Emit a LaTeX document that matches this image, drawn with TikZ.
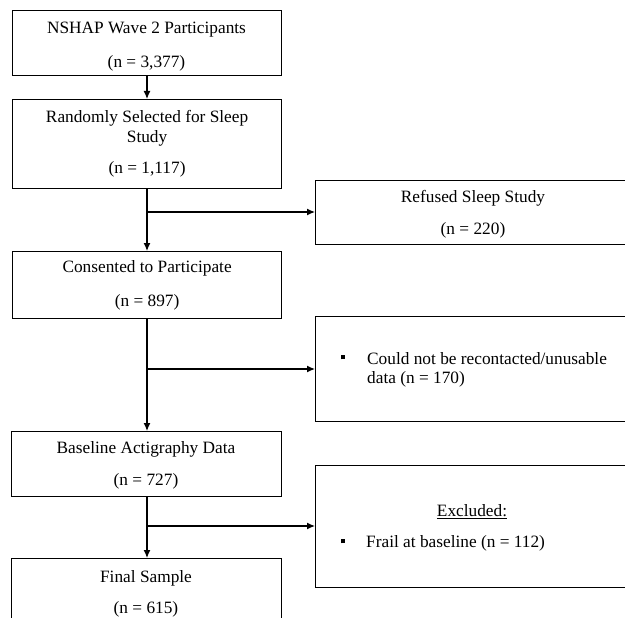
\documentclass[tikz,border=0pt]{standalone}
\usepackage{fontspec}
\setmainfont{Liberation Serif}
\usetikzlibrary{arrows.meta}
\begin{document}
\begin{tikzpicture}[x=1pt,y=-1pt,
  box/.style={draw, line width=1.2pt, inner sep=0pt, align=center, anchor=north west,
    font=\fontsize{17.3}{19.5}\selectfont},
  txt/.style={inner sep=0pt, font=\fontsize{17.3}{19.5}\selectfont},
  arr/.style={line width=1.2pt, -{Latex[length=8pt,width=7pt]}}]
\useasboundingbox (0,0) rectangle (625,618);
\clip (0,0) rectangle (625,618);
% left column boxes
\node[box, minimum width=269pt, minimum height=65pt] (b1) at (12,10) {};
\node[txt, align=center] (b1t) at (146.5,46.5)
  {NSHAP Wave 2 Participants\\[14pt](n = 3,377)};
\node[box, minimum width=269pt, minimum height=89pt] (b2) at (12,99)
  {Randomly Selected for Sleep\\Study\\[12pt](n = 1,117)};
\node[box, minimum width=269pt, minimum height=67pt] (b3) at (12,251)
  {Consented to Participate\\[14pt](n = 897)};
\node[box, minimum width=270pt, minimum height=65pt] (b4) at (11,431) {};
\node[txt, align=center] (b4t) at (146,465.5)
  {Baseline Actigraphy Data\\[12pt](n = 727)};
\node[box, minimum width=270pt, minimum height=82pt] (b5) at (11,558) {};
\node[txt, align=center] (b5t) at (146,594) {Final Sample\\[12pt](n = 615)};
% right column boxes
\node[box, minimum width=315pt, minimum height=64pt] (r1) at (315,180) {};
\node[txt, align=center] (r1t) at (473,214.5) {Refused Sleep Study\\[12pt](n = 220)};
\node[box, minimum width=315pt, minimum height=105pt] (r2) at (315,316) {};
\node[box, minimum width=315pt, minimum height=122pt] (r3) at (315,465) {};
% texts in right boxes
\node[txt, anchor=center] (bu1) at (343,357) {\rule{4.5pt}{4.5pt}};
\node[txt, anchor=west, align=left] (t2) at (367,370)
  {Could not be recontacted/unusable\\data (n = 170)};
\node[txt] (t3a) at (472,512) {\underline{Excluded:}};
\node[txt, anchor=center] (bu2) at (343,541) {\rule{4.5pt}{4.5pt}};
\node[txt, anchor=west] (t3b) at (366,543) {Frail at baseline (n = 112)};
% connectors
\draw[arr] (b1.south -| 147,0) -- (b2.north -| 147,0);
\draw[arr] (b2.south -| 147,0) -- (b3.north -| 147,0);
\draw[arr] (b3.south -| 147,0) -- (b4.north -| 147,0);
\draw[arr] (b4.south -| 147,0) -- (b5.north -| 147,0);
\coordinate (j1) at (147,212);
\coordinate (j2) at (147,369);
\coordinate (j3) at (147,526);
\draw[arr] (j1) -- (j1 -| r1.west);
\draw[arr] (j2) -- (j2 -| r2.west);
\draw[arr] (j3) -- (j3 -| r3.west);
\end{tikzpicture}
\end{document}
